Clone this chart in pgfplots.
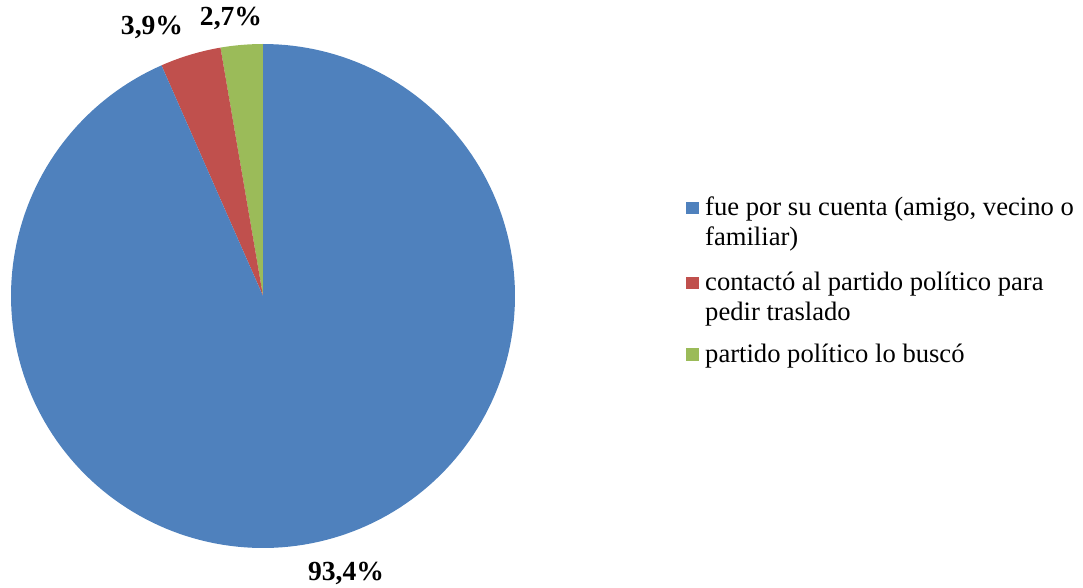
\documentclass[border=0pt]{standalone}
\usepackage{fontspec}
\setmainfont{Liberation Serif}
\usepackage{pgfplots}
\pgfplotsset{compat=1.18}
\definecolor{cblue}{HTML}{4F81BD}
\definecolor{cred}{HTML}{C0504D}
\definecolor{cgreen}{HTML}{9BBB59}
% shares in percent
\def\vA{93.4}\def\vB{3.9}\def\vC{2.7}
\pgfmathsetmacro\aA{90}
\pgfmathsetmacro\aB{90+3.6*\vC}
\pgfmathsetmacro\aC{\aB+3.6*\vB}
\pgfmathsetmacro\aD{450}
\begin{document}
\begin{tikzpicture}
\begin{axis}[width=1083pt,height=587pt,scale only axis,
  xmin=0,xmax=1083,ymin=0,ymax=587,hide axis,clip=false]
\addplot[fill=cgreen,draw=none,domain=\aA:\aB,samples=20,variable=\t]
  ({263+252*cos(t)},{291+252*sin(t)}) -- (axis cs:263,291) -- cycle;
\addplot[fill=cred,draw=none,domain=\aB:\aC,samples=20,variable=\t]
  ({263+252*cos(t)},{291+252*sin(t)}) -- (axis cs:263,291) -- cycle;
\addplot[fill=cblue,draw=none,domain=\aC:\aD,samples=200,variable=\t]
  ({263+252*cos(t)},{291+252*sin(t)}) -- (axis cs:263,291) -- cycle;
\begin{scope}[every node/.style={inner sep=0pt,font=\bfseries\fontsize{27.6}{30}\selectfont}]
\node[anchor=base] at (axis cs:346,7) {93,4\%};
\node[anchor=base] at (axis cs:152,552) {3,9\%};
\node[anchor=base] at (axis cs:231,561) {2,7\%};
\end{scope}
\fill[cblue] (axis cs:686,373) rectangle (axis cs:699,385);
\fill[cred] (axis cs:686,298) rectangle (axis cs:699,310);
\fill[cgreen] (axis cs:686,226) rectangle (axis cs:699,239);
\begin{scope}[every node/.style={inner sep=0pt,anchor=base west,font=\fontsize{26.6}{30}\selectfont}]
\node at (axis cs:705,371) {fue por su cuenta (amigo, vecino o};
\node at (axis cs:705,341) {familiar)};
\node at (axis cs:705,297) {contactó al partido político para};
\node at (axis cs:705,267) {pedir traslado};
\node at (axis cs:705,225) {partido político lo buscó};
\end{scope}
\end{axis}
\useasboundingbox (0,0) rectangle (1083pt,587pt);
\end{tikzpicture}
\end{document}
